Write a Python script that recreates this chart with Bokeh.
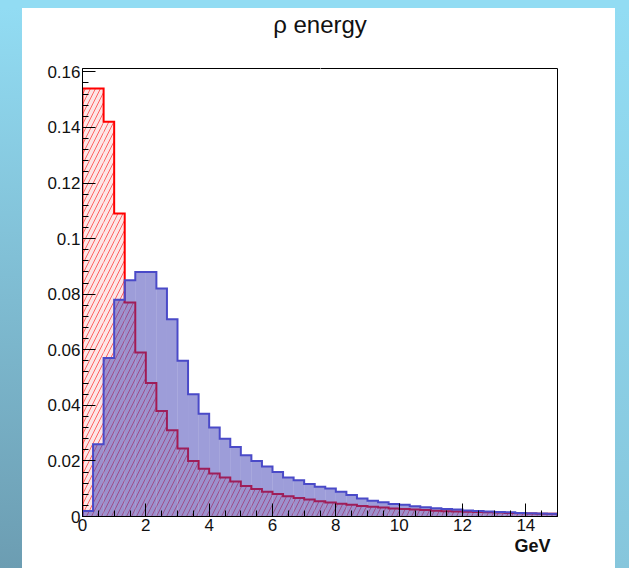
import numpy as np
from bokeh.plotting import figure
from bokeh.models import FixedTicker, Spacer, Range1d, LinearAxis, Title
from bokeh.layouts import row, column
from bokeh.embed import file_html
from bokeh.resources import INLINE

# Histogram definition: 45 bins from 0 to 15 GeV
n_bins = 45
x_min, x_max = 0.0, 15.0
y_max = 0.1612

red_values = [0.154, 0.154, 0.142, 0.109, 0.077, 0.059, 0.048, 0.038, 0.031, 0.0245,
              0.020, 0.0172, 0.0155, 0.014, 0.0126, 0.011, 0.0099, 0.0089, 0.0081, 0.0073,
              0.0067, 0.0061, 0.0055, 0.0050, 0.0046, 0.0042, 0.0038, 0.0035, 0.0032, 0.0029,
              0.0027, 0.0025, 0.0023, 0.0021, 0.0019, 0.0018, 0.0017, 0.0016, 0.0015, 0.0014,
              0.0013, 0.0012, 0.0011, 0.0010, 0.0010]

blue_values = [0.002, 0.026, 0.057, 0.078, 0.085, 0.088, 0.088, 0.082, 0.071, 0.056,
               0.044, 0.037, 0.032, 0.028, 0.025, 0.022, 0.020, 0.018, 0.016, 0.014,
               0.013, 0.0117, 0.0107, 0.0101, 0.0089, 0.0077, 0.0065, 0.0057, 0.0051, 0.0045,
               0.0042, 0.0037, 0.0033, 0.0030, 0.0027, 0.0025, 0.0022, 0.0020, 0.0018, 0.0016,
               0.0015, 0.0013, 0.0012, 0.0011, 0.0010]

x_ticks = [0, 2, 4, 6, 8, 10, 12, 14]
y_ticks = [0, 0.02, 0.04, 0.06, 0.08, 0.1, 0.12, 0.14, 0.16]
y_tick_labels = ["0", "0.02", "0.04", "0.06", "0.08", "0.1", "0.12", "0.14", "0.16"]

title_text = "ρ energy"
x_label = "GeV"

edges = np.linspace(x_min, x_max, n_bins + 1)


def step_outline(values):
    xs, ys = [edges[0]], [0.0]
    for i, v in enumerate(values):
        xs += [edges[i], edges[i + 1]]
        ys += [v, v]
    xs.append(edges[-1])
    ys.append(0.0)
    return xs, ys


FONT = "Liberation Sans"
FIG_W, FIG_H = 593, 560

p = figure(width=FIG_W, height=FIG_H, output_backend="svg", toolbar_location=None,
           x_range=Range1d(x_min, x_max), y_range=Range1d(0, y_max),
           min_border_left=60, min_border_right=58, min_border_top=60, min_border_bottom=52)

main_x = p.xaxis[0]
main_y = p.yaxis[0]

p.grid.visible = False
p.outline_line_color = "black"
p.outline_line_width = 1
p.background_fill_color = "white"
p.border_fill_color = "white"

# blank axis above the frame (white tick, empty label): only pads the space under the title
pad_tick = (x_min + x_max) / 2
pad_axis = LinearAxis(ticker=FixedTicker(ticks=[pad_tick], minor_ticks=[]),
                      major_tick_out=31, major_tick_in=0, minor_tick_out=0, minor_tick_in=0,
                      axis_line_color=None, major_tick_line_color="white",
                      minor_tick_line_color=None, major_label_standoff=0,
                      major_label_text_font_size="1px", major_label_text_color="white",
                      major_label_overrides={pad_tick: ""})
p.add_layout(pad_axis, "above")

p.title.text = title_text
p.title.align = "center"
p.title.text_font = FONT
p.title.text_font_size = "24px"
p.title.text_font_style = "normal"
p.title.text_color = "#111111"
p.title.standoff = 0

# red histogram (hatched)
p.quad(left=edges[:-1], right=edges[1:], bottom=0, top=red_values,
       fill_color="#fce6e6", fill_alpha=1.0, hatch_pattern="/", hatch_color="#ff2a2a",
       hatch_alpha=0.7, hatch_scale=10, hatch_weight=1, line_color=None)
rx, ry = step_outline(red_values)
p.line(rx, ry, line_color="#ff0000", line_width=2, line_join="miter")

# blue histogram (semi-transparent over red)
p.quad(left=edges[:-1], right=edges[1:], bottom=0, top=blue_values,
       fill_color="#3c3cb4", fill_alpha=0.5, line_color=None)
bx, by = step_outline(blue_values)
p.line(bx, by, line_color="#4a4ac8", line_width=2, line_join="miter")

for ax in (main_x, main_y):
    ax.major_tick_in = 13
    ax.major_tick_out = 0
    ax.minor_tick_in = 6
    ax.minor_tick_out = 0
    ax.axis_line_color = "black"
    ax.major_tick_line_color = "black"
    ax.minor_tick_line_color = "black"
    ax.major_label_text_font = FONT
    ax.major_label_text_font_size = "17px"
    ax.major_label_text_color = "#111111"
    ax.major_label_standoff = 2

main_x.ticker = FixedTicker(ticks=x_ticks, minor_ticks=list(np.arange(0, 15.01, 0.5)))
main_y.ticker = FixedTicker(ticks=y_ticks, minor_ticks=list(np.arange(0, 0.1601, 0.004)))
main_y.major_label_overrides = {t: s for t, s in zip(y_ticks, y_tick_labels)}

p.add_layout(Title(text=x_label, align="right", offset=7, standoff=0, text_font=FONT,
                   text_font_size="18px", text_font_style="bold", text_color="#111111"),
             "below")

BG = "linear-gradient(to bottom, #92dcf3, #6c9db2)"
top_band = Spacer(width=629, height=8, styles={"background": "#92dcf3"})
left_band = Spacer(width=22, height=FIG_H, styles={"background": BG})
right_band = Spacer(width=14, height=FIG_H,
                    styles={"background": "linear-gradient(to bottom, #92dcf3, #86c6dc)"})
layout = column(top_band, row(left_band, p, right_band))

open("out.html", "w").write(file_html(layout, INLINE))
